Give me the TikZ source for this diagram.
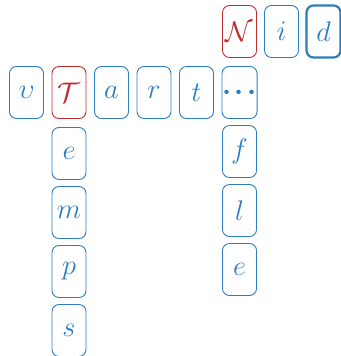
\documentclass[tikz,border=0pt]{standalone}
\usepackage{graphicx}
\usepackage{amsmath,amssymb}
\usetikzlibrary{positioning}
\definecolor{cwBlue}{HTML}{2E7DBF}
\definecolor{cwRed}{HTML}{BF2E2E}
\newcommand{\cwglyph}[1]{\scalebox{1.14}{$#1$}}

\begin{document}
\begin{tikzpicture}[
  cell/.style={draw=cwBlue, text=cwBlue, rounded corners=7pt, line width=0.9pt,
               minimum width=34pt, minimum height=52pt, inner sep=0pt, outer sep=0pt,
               font=\Huge},
  hitcell/.style={cell, draw=cwRed, text=cwRed},
  curcell/.style={cell, line width=2.2pt}
]
  \useasboundingbox (0,0) rectangle (340pt,-356pt);

  % across row
  \node[cell] (nU) at (26.5pt,-92.5pt) {\cwglyph{\upsilon}};
  \node[hitcell, right=8.5pt of nU] (nT) {\cwglyph{\mathcal{T}}};
  \node[cell, right=8.5pt of nT] (nA) {\cwglyph{a}};
  \node[cell, right=8.5pt of nA] (nR) {\cwglyph{r}};
  \node[cell, right=8.5pt of nR] (nTt) {\cwglyph{t}};
  \node[cell, right=8.5pt of nTt] (nDots)
    {\cwglyph{\boldsymbol{\cdot}\mkern-1.5mu\boldsymbol{\cdot}\mkern-1.5mu\boldsymbol{\cdot}}};

  % top row
  \node[hitcell, above=9pt of nDots] (nN) {\cwglyph{\mathcal{N}}};
  \node[cell, right=8pt of nN] (nI) {\cwglyph{i}};
  \node[curcell, right=8pt of nI] (nD) {\cwglyph{d}};

  % down from T
  \node[cell, below=9pt of nT] (nE) {\cwglyph{e}};
  \node[cell, below=7pt of nE] (nM) {\cwglyph{m}};
  \node[cell, below=7pt of nM] (nP) {\cwglyph{p}};
  \node[cell, below=7pt of nP] (nS) {\cwglyph{s}};

  % down from dots
  \node[cell, below=7pt of nDots] (nF) {\cwglyph{f}};
  \node[cell, below=7pt of nF] (nL) {\cwglyph{l}};
  \node[cell, below=7pt of nL] (nEe) {\cwglyph{e}};
\end{tikzpicture}
\end{document}
